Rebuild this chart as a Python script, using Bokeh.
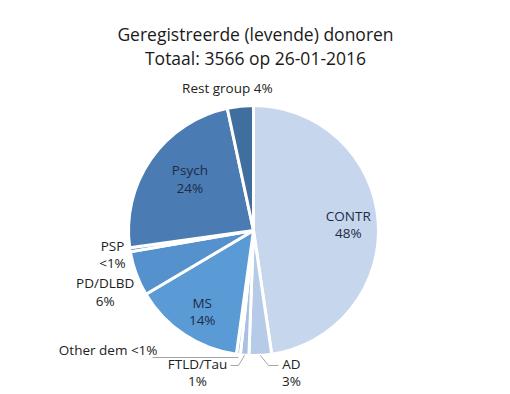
import math
from bokeh.plotting import figure
from bokeh.models import Range1d, ColumnDataSource
from bokeh.core.properties import value
from bokeh.embed import file_html
from bokeh.resources import INLINE

# ---- data ----
categories = ["CONTR", "AD", "FTLD/Tau", "Other dem", "MS", "PD/DLBD", "PSP", "Psych", "Rest group"]
counts = [1700, 104, 39, 18, 510, 207, 18, 850, 120]
pct_labels = ["48%", "3%", "1%", "<1%", "14%", "6%", "<1%", "24%", "4%"]
colors = ["#c6d6ed", "#b6cbe8", "#a8c1e3", "#9cb8df", "#5b9bd5", "#5591cc", "#4f88c2", "#4a7bb3", "#406e9e"]

title_lines = ["Geregistreerde (levende) donoren", "Totaal: 3566 op 26-01-2016"]

W, H = 510, 394
# coordinates: x = ref pixel x, y = 394 - ref pixel y
def Y(yref):
    return 394 - yref

p = figure(width=W, height=H, output_backend="svg", toolbar_location=None,
           x_range=Range1d(0, W), y_range=Range1d(394 - H, 394),
           x_axis_location=None, y_axis_location=None,
           min_border=0, min_border_left=0, min_border_right=0,
           min_border_top=0, min_border_bottom=0)
p.grid.visible = False
p.outline_line_color = None
p.background_fill_color = "white"
p.border_fill_color = "white"

cx, cy, R = 253, Y(230), 125
total = sum(counts)
starts, ends, mids = [], [], []
cum = 0.0
for c in counts:
    a0 = math.pi / 2 - 2 * math.pi * cum / total
    cum += c
    a1 = math.pi / 2 - 2 * math.pi * cum / total
    starts.append(a1)
    ends.append(a0)
    mids.append((a0 + a1) / 2)

src = ColumnDataSource(dict(start=starts, end=ends, color=colors, cat=categories))
p.wedge(x=cx, y=cy, radius=R, start_angle="start", end_angle="end", direction="anticlock",
        fill_color="color", line_color="white", line_width=3, source=src)

font = value("Open Sans")
inner = "#1d2b47"
outer = "#222222"
fs = "13.5px"

# title
p.text(x=[255, 255], y=[Y(33), Y(57)], text=title_lines, text_font=font,
       text_font_size="17.5px", text_align="center", text_baseline="middle", text_color="#1a1a1a")

# labels: index -> (radius factor, dx, dy, colour)
label_layout = {0: (0.76, 0, -1, inner), 7: (0.66, 4, 4, inner), 4: (0.77, 2, -1, inner),
                5: (1.29, 3, -6, outer), 6: (1.15, 1, -2, outer)}
lh = 17.5
for i, (rf, dx, dy, col) in label_layout.items():
    lx = cx + rf * R * math.cos(mids[i]) + dx
    ly = cy + rf * R * math.sin(mids[i]) + dy
    p.text(x=[lx, lx], y=[ly + lh / 2, ly - lh / 2], text=[categories[i], pct_labels[i]],
           text_font=font, text_font_size=fs, text_align="center",
           text_baseline="middle", text_color=col)

# Rest group label (single line)
i = 8
lx = cx + 1.15 * R * math.cos(mids[i]) - 11
ly = cy + 1.15 * R * math.sin(mids[i])
p.text(x=[lx], y=[ly], text=[categories[i] + " " + pct_labels[i]], text_font=font,
       text_font_size=fs, text_align="center", text_baseline="middle", text_color=outer)

# leader-line labels
lead = "#a6a6a6"
# Other dem
i = 3
ex = cx + R * math.cos(mids[i]); ey = cy + R * math.sin(mids[i])
p.line(x=[152, ex], y=[Y(357), Y(357)], line_color=lead, line_width=1)
p.text(x=[157], y=[Y(349)], text=[categories[i] + " " + pct_labels[i]], text_font=font,
       text_font_size=fs, text_align="right", text_baseline="middle", text_color=outer)
# FTLD/Tau
i = 2
ex = cx + R * math.cos(mids[i]); ey = cy + R * math.sin(mids[i])
p.line(x=[230, 238, ex], y=[Y(365), Y(365), ey], line_color=lead, line_width=1)
p.text(x=[197, 197], y=[Y(363), Y(380)], text=[categories[i], pct_labels[i]], text_font=font,
       text_font_size=fs, text_align="center", text_baseline="middle", text_color=outer)
# AD
i = 1
ex = cx + R * math.cos(mids[i]); ey = cy + R * math.sin(mids[i])
p.line(x=[ex, 268, 278], y=[ey, Y(365), Y(365)], line_color=lead, line_width=1)
p.text(x=[291, 291], y=[Y(363), Y(380)], text=[categories[i], pct_labels[i]], text_font=font,
       text_font_size=fs, text_align="center", text_baseline="middle", text_color=outer)

open("out.html", "w").write(file_html(p, INLINE))
